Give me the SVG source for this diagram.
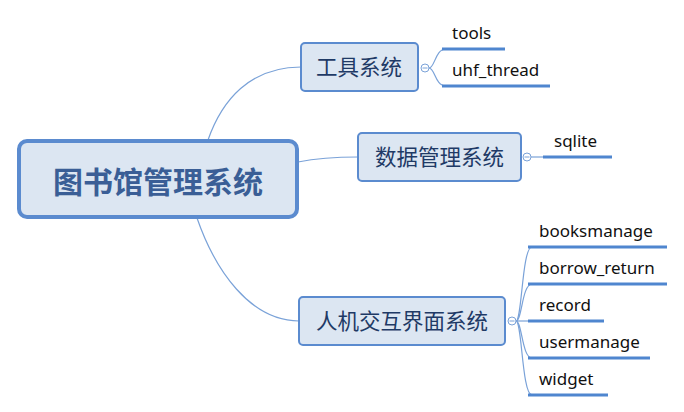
<svg xmlns="http://www.w3.org/2000/svg" width="684" height="412" viewBox="0 0 684 412">
<style>
.node{fill:#DCE6F2;stroke:#5B8BCF;stroke-width:2}
.root{fill:#DCE6F2;stroke:#5B8BCF;stroke-width:4}
.t1{font-family:"Noto Sans CJK SC",sans-serif;font-size:21.5px;fill:#1F3A66;text-anchor:middle}
.t0{font-family:"Noto Sans CJK SC",sans-serif;font-size:30px;font-weight:bold;fill:#3A5E96;text-anchor:middle}
.leaf{font-family:"Noto Sans","Liberation Sans",sans-serif;font-size:17px;fill:#111}
.ul{stroke:#4F86CF;stroke-width:3;fill:none}
.ln{stroke:#7AA2D8;stroke-width:1.2;fill:none}
.cc{fill:#fff;stroke:#7AA2D8;stroke-width:1}
.mn{stroke:#7AA2D8;stroke-width:1}
</style>
<g id="connectors">
<path class="ln" d="M208,140 C222,100 250,67 301,67"/>
<path class="ln" d="M298,162 C318,158 335,157 358,157"/>
<path class="ln" d="M197,218 C215,270 250,321 299,321"/>
<path class="ln" d="M429,68 C435,68 435,49 446,49"/>
<path class="ln" d="M429,68 C435,68 435,86 446,86"/>
<path class="ln" d="M531,157 L543,157"/>
<path class="ln" d="M516,321 C522,321 522,247 532,247"/>
<path class="ln" d="M516,321 C522,321 522,284 532,284"/>
<path class="ln" d="M516,321 L532,321"/>
<path class="ln" d="M516,321 C522,321 522,358 532,358"/>
<path class="ln" d="M516,321 C522,321 522,395 532,395"/>
</g>
<g id="root">
<rect class="root" x="19" y="141" width="278" height="76" rx="8"/>
<text class="t0" x="158" y="193">图书馆管理系统</text>
</g>
<g id="tools-sys">
<rect class="node" x="301" y="43" width="117" height="48" rx="4"/>
<text class="t1" x="359" y="75">工具系统</text>
<circle class="cc" cx="425" cy="68" r="4"/>
<line class="mn" x1="422.5" y1="68" x2="427.5" y2="68"/>
</g>
<g id="tools">
<text class="leaf" x="452" y="39">tools</text>
<line class="ul" x1="442" y1="49" x2="505" y2="49"/>
</g>
<g id="uhf_thread">
<text class="leaf" x="452" y="76">uhf_thread</text>
<line class="ul" x1="442" y1="86" x2="550" y2="86"/>
</g>
<g id="data-sys">
<rect class="node" x="358" y="133" width="163" height="48" rx="4"/>
<text class="t1" x="439.5" y="165">数据管理系统</text>
<circle class="cc" cx="527" cy="157" r="4"/>
<line class="mn" x1="524.5" y1="157" x2="529.5" y2="157"/>
</g>
<g id="sqlite">
<text class="leaf" x="554" y="147">sqlite</text>
<line class="ul" x1="543" y1="157" x2="612" y2="157"/>
</g>
<g id="ui-sys">
<rect class="node" x="299" y="297" width="206" height="48" rx="4"/>
<text class="t1" x="402" y="329">人机交互界面系统</text>
<circle class="cc" cx="512" cy="321" r="4"/>
<line class="mn" x1="509.5" y1="321" x2="514.5" y2="321"/>
</g>
<g id="booksmanage">
<text class="leaf" x="539" y="237">booksmanage</text>
<line class="ul" x1="528" y1="247" x2="667" y2="247"/>
</g>
<g id="borrow_return">
<text class="leaf" x="539" y="274">borrow_return</text>
<line class="ul" x1="528" y1="284" x2="667" y2="284"/>
</g>
<g id="record">
<text class="leaf" x="539" y="311">record</text>
<line class="ul" x1="528" y1="321" x2="604" y2="321"/>
</g>
<g id="usermanage">
<text class="leaf" x="539" y="348">usermanage</text>
<line class="ul" x1="528" y1="358" x2="650" y2="358"/>
</g>
<g id="widget">
<text class="leaf" x="539" y="385">widget</text>
<line class="ul" x1="528" y1="395" x2="608" y2="395"/>
</g>
</svg>
